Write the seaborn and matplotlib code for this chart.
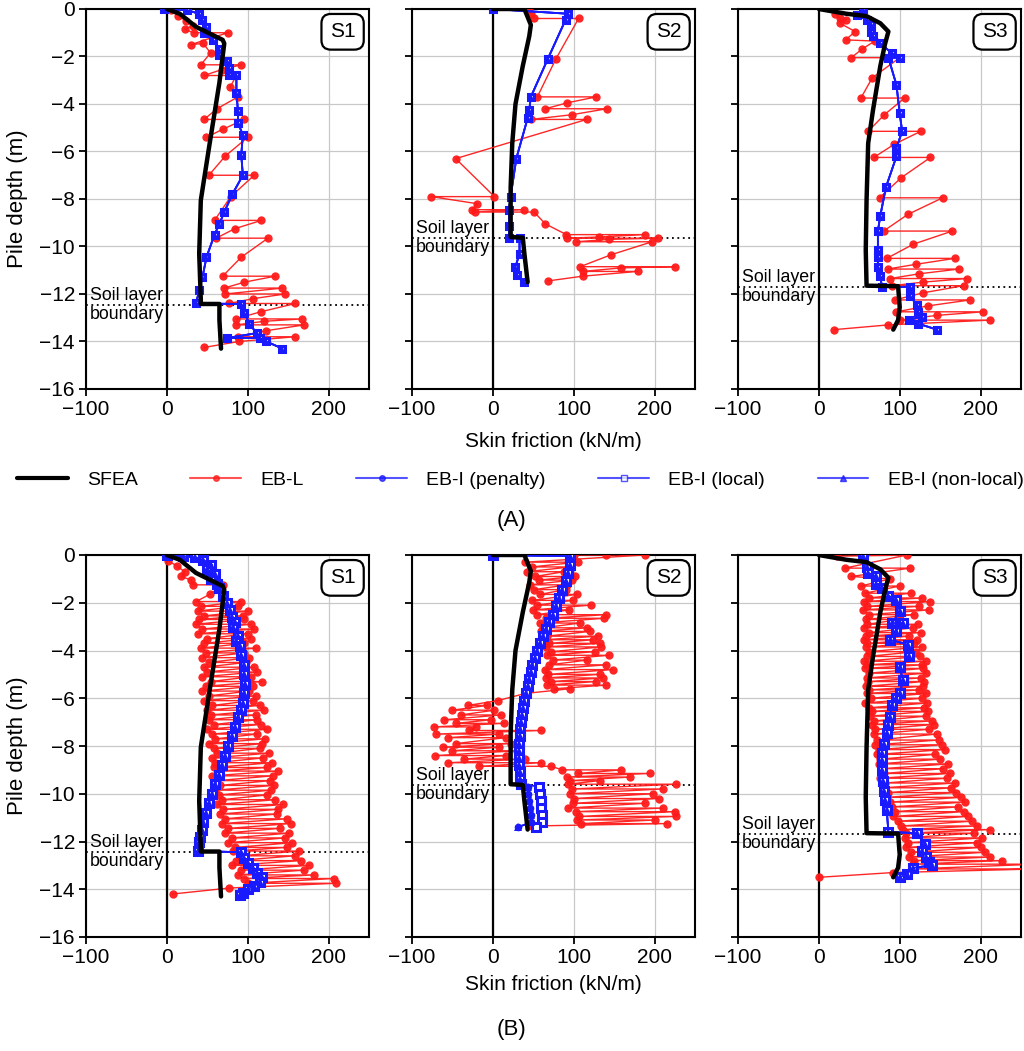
import matplotlib
matplotlib.use("Agg")
import matplotlib.pyplot as plt
from matplotlib.lines import Line2D
import seaborn as sns

# ---------------------------
# data
# ---------------------------

sites = ["S1", "S2", "S3"]
boundary = {"S1": -12.45, "S2": -9.65, "S3": -11.7}

# SFEA (same in both rows)
sfea_x = {
    "S1": [0, 16, 36, 69, 71, 65, 53, 42, 40, 42, 42, 65, 65, 67],
    "S2": [0, 39, 47, 45, 37, 28, 24, 22, 22, 37, 39, 43],
    "S3": [0, 34, 59, 76, 86, 82, 76, 67, 61, 59, 58, 59, 98, 100, 98, 92],
}
sfea_y = {
    "S1": [0, -0.2, -0.75, -1.3, -1.45, -3.1, -5.65, -8.05, -10.3, -12.25, -12.42, -12.42, -13.1, -14.3],
    "S2": [0, 0, -0.67, -1.15, -2.4, -4.0, -5.65, -7.5, -9.6, -9.63, -10.3, -11.5],
    "S3": [0, -0.2, -0.3, -0.6, -0.95, -1.45, -2.4, -4.25, -5.65, -8.05, -10.15, -11.65, -11.67, -12.55, -13.1, -13.5],
}

# (A) EB-L
ebl_a_x = {
    "S1": [5, 14, 24, 32, 22, 33, 76, 56, 30, 45, 54, 42, 92, 68, 46, 86, 78, 88, 62, 46, 96, 70, 49, 100,
           72, 52, 108, 79, 59, 117, 84, 61, 125, 92, 69, 134, 96, 71, 143, 72, 146, 106, 77, 159, 116, 85,
           167, 120, 86, 170, 122, 88, 159, 89, 46],
    "S2": [45, 47, 51, 106, 78, 55, 128, 92, 65, 141, 98, 47, 116, -46, 2, -76, -19, -26, 38, -22, 51, 65,
           91, 188, 131, 92, 204, 144, 103, 197, 146, 108, 225, 159, 111, 179, 111, 68],
    "S3": [20, 26, 34, 26, 45, 33, 69, 53, 40, 100, 66, 52, 106, 81, 61, 126, 93, 68, 138, 102, 75, 153, 110,
           80, 165, 117, 84, 168, 120, 85, 173, 124, 88, 183, 129, 91, 179, 129, 94, 187, 135, 96, 203, 146,
           100, 212, 86, 19],
}
ebl_a_y = {
    "S1": [-0.05, -0.3, -0.5, -0.7, -0.85, -1.0, -1.0, -1.2, -1.5, -1.45, -1.85, -2.35, -2.35, -2.55, -2.8,
           -2.8, -3.3, -3.7, -4.2, -4.65, -4.65, -5.05, -5.4, -5.4, -6.2, -7.0, -7.0, -7.9, -8.9, -8.9, -9.25,
           -9.65, -9.65, -10.45, -11.25, -11.25, -11.5, -11.75, -11.75, -12.0, -12.0, -12.2, -12.4, -12.4,
           -12.75, -13.05, -13.05, -13.15, -13.3, -13.3, -13.55, -13.8, -13.8, -14.0, -14.25],
    "S2": [0, -0.2, -0.4, -0.4, -2.1, -3.7, -3.7, -3.95, -4.2, -4.2, -4.45, -4.65, -4.65, -6.3, -7.9, -7.9,
           -8.2, -8.45, -8.45, -8.55, -8.55, -9.05, -9.5, -9.5, -9.6, -9.65, -9.65, -9.7, -9.8, -9.8, -10.35,
           -10.85, -10.85, -10.9, -11.05, -11.05, -11.25, -11.45],
    "S3": [-0.2, -0.4, -0.45, -0.6, -0.95, -1.3, -1.35, -1.7, -2.05, -2.05, -2.9, -3.75, -3.75, -4.45, -5.15,
           -5.15, -5.7, -6.25, -6.25, -7.1, -7.95, -7.95, -8.65, -9.35, -9.35, -9.9, -10.5, -10.5, -10.75,
           -10.95, -10.95, -11.15, -11.35, -11.35, -11.5, -11.65, -11.65, -11.95, -12.25, -12.25, -12.5,
           -12.75, -12.75, -12.9, -13.1, -13.1, -13.3, -13.5],
}

# (A) EB-I (penalty / local / non-local overlap)
ebi_a_x = {
    "S1": [-3, 25, 40, 44, 48, 46, 57, 65, 65, 75, 77, 77, 86, 86, 88, 88, 94, 92, 94, 81, 71, 65, 59, 49, 44,
           40, 36, 92, 96, 102, 111, 75, 115, 123, 143],
    "S2": [0, 93, 90, 68, 47, 45, 43, 29, 22, 20, 20, 20, 33, 33, 28, 30, 39],
    "S3": [55, 47, 59, 65, 65, 67, 76, 90, 100, 86, 96, 100, 103, 96, 96, 83, 76, 73, 73, 73, 73, 76, 78, 113,
           113, 121, 123, 127, 111, 123, 146],
}
ebi_a_y = {
    "S1": [0, -0.05, -0.2, -0.45, -0.75, -1.0, -1.3, -1.7, -1.95, -2.2, -2.5, -2.8, -2.8, -3.55, -4.3, -4.8,
           -5.3, -6.15, -7.0, -7.8, -8.55, -9.05, -9.5, -10.45, -11.3, -11.85, -12.4, -12.42, -12.8, -13.25,
           -13.65, -13.85, -13.85, -14.0, -14.3],
    "S2": [0, -0.2, -0.45, -2.1, -3.7, -4.25, -4.6, -6.3, -7.9, -8.45, -9.15, -9.65, -9.65, -10.3, -10.85,
           -11.2, -11.5],
    "S3": [0, -0.25, -0.45, -0.65, -0.95, -1.15, -1.45, -1.85, -2.05, -2.05, -3.2, -4.4, -5.15, -5.85, -6.2,
           -7.5, -8.7, -9.35, -10.15, -10.45, -10.85, -11.25, -11.7, -11.7, -12.1, -12.45, -12.75, -12.95,
           -13.1, -13.25, -13.5],
}

# (B) EB-L
ebl_b_x = {
    "S1": [2, 12, 22, 18, 30, 32, 69, 53, 36, 92,
           42, 88, 38, 100, 46, 94, 40, 96, 36, 104, 44, 108, 38, 100, 50, 104, 46, 96, 42, 110, 48, 96,
           44, 102, 52, 98, 46, 108, 50, 112, 44, 104, 54, 118, 48, 106, 44, 102, 52, 110, 46, 106,
           56, 115, 50, 120, 54, 110, 52, 112, 58, 116, 50, 124, 56, 112, 60, 121, 52, 118, 58, 115,
           62, 126, 56, 119, 60, 130, 58, 124, 64, 137, 56, 131, 62, 128, 66, 133, 60, 129, 64, 124,
           68, 134, 62, 144, 70, 138, 66, 136, 72, 148, 68, 153, 76, 140, 72, 151, 80, 146, 76, 155,
           84, 148, 82, 164, 90, 158, 86, 166, 80, 176, 92, 170, 88, 182, 96, 207, 100, 209, 77, 7],
    "S2": [100, 140, 188,
           40, 105, 48, 96, 42, 88, 52, 102, 57, 98, 46, 92, 51, 90, 58, 104, 49, 99, 54, 121, 50, 94, 55, 140,
           66, 138, 58, 108, 62, 116, 60, 120, 67, 130, 64, 124, 70, 132, 66, 134, 72, 126, 67, 144, 74, 117,
           70, 140, 64, 148, 68, 132, 66, 136, 72, 128, 67, 140, 76, 96,
           40, 6,
           -31, -7, -50, 2, -40, 10, -60, -2, -45, 14, -73, -21, -29, 60, -70, 8, -55, 16, -46, 22, -62, 8,
           -50, 30, -71, 16, -36, 40, -55, 60, -17, 72,
           86, 159, 105, 194, 92, 170, 96, 132, 93, 227, 98, 210, 95, 198, 100, 205, 99, 188, 93, 210,
           103, 225, 107, 227, 104, 200, 109, 215, 49],
    "S3": [22, 109, 32, 113, 40, 88, 52, 100, 57, 114,
           62, 128, 56, 138, 60, 124, 54, 136, 62, 118, 58, 100, 60, 122, 56, 117, 62, 126, 58, 112,
           56, 121, 60, 118, 58, 127, 62, 120, 60, 125, 56, 132, 60, 128, 57, 129, 62, 133, 59, 126,
           61, 130, 58, 129, 62, 124, 59, 133, 64, 128, 57, 134, 62, 130, 66, 135, 63, 133, 68, 140,
           66, 142, 70, 136, 68, 146, 72, 148, 70, 152, 74, 156, 72, 144, 76, 150, 74, 160, 78, 154,
           80, 162, 76, 158, 82, 168, 80, 164, 86, 170, 84, 176, 88, 181, 90, 172, 94, 179, 92, 184,
           98, 189, 102, 196, 104, 212, 108, 192, 106, 202, 110, 196, 108, 200, 114, 206, 112, 212, 118, 226,
           116, 270, 115, 270, 92, 0],
}
ebl_b_y = {
    "S1": [-0.25, -0.45, -0.7, -0.9, -1.05, -1.25, -1.25, -1.65, -1.95, -1.95,
           -2.15, -2.15, -2.35, -2.35, -2.55, -2.55, -2.7, -2.7, -2.9, -2.9, -3.1, -3.1, -3.3, -3.3,
           -3.5, -3.5, -3.7, -3.7, -3.9, -3.9, -4.1, -4.1,
           -4.3, -4.3, -4.5, -4.5, -4.7, -4.7, -4.9, -4.9, -5.1, -5.1, -5.3, -5.3, -5.5, -5.5, -5.7, -5.7,
           -5.9, -5.9, -6.1, -6.1,
           -6.3, -6.3, -6.5, -6.5, -6.7, -6.7, -6.9, -6.9, -7.1, -7.1, -7.3, -7.3, -7.5, -7.5, -7.7, -7.7,
           -7.9, -7.9, -8.1, -8.1,
           -8.3, -8.3, -8.5, -8.5, -8.7, -8.7, -8.9, -8.9, -9.05, -9.05, -9.25, -9.25, -9.45, -9.45,
           -9.65, -9.65, -9.85, -9.85, -10.05, -10.05,
           -10.25, -10.25, -10.45, -10.45, -10.65, -10.65, -10.85, -10.85, -11.05, -11.05, -11.25, -11.25,
           -11.45, -11.45, -11.65, -11.65, -11.85, -11.85, -12.05, -12.05,
           -12.25, -12.25, -12.4, -12.4, -12.6, -12.6, -12.8, -12.8, -13.0, -13.0, -13.2, -13.2, -13.4, -13.4,
           -13.55, -13.55, -13.75, -13.75, -13.95, -14.2],
    "S2": [0, 0, 0,
           -0.3, -0.3, -0.5, -0.5, -0.7, -0.7, -0.9, -0.9, -1.05, -1.05, -1.25, -1.25, -1.45, -1.45,
           -1.65, -1.65, -1.9, -1.9, -2.1, -2.1, -2.3, -2.3, -2.5, -2.5,
           -2.65, -2.65, -2.85, -2.85, -3.05, -3.05, -3.2, -3.2, -3.4, -3.4, -3.55, -3.55, -3.7, -3.7,
           -3.85, -3.85, -4.05, -4.05, -4.2, -4.2, -4.4, -4.4,
           -4.6, -4.6, -4.8, -4.8, -5.0, -5.0, -5.15, -5.15, -5.3, -5.3, -5.45, -5.45, -5.6, -5.6,
           -5.8, -6.1,
           -6.3, -6.3, -6.5, -6.5, -6.7, -6.7, -6.9, -6.9, -7.05, -7.05, -7.2, -7.2, -7.35, -7.35,
           -7.5, -7.5, -7.65, -7.65, -7.9, -7.9, -8.05, -8.05,
           -8.2, -8.2, -8.4, -8.4, -8.55, -8.55, -8.7, -8.7, -8.85, -8.85,
           -9.0, -9.0, -9.15, -9.15, -9.3, -9.3, -9.45, -9.45, -9.6, -9.6, -9.8, -9.8, -10.0, -10.0,
           -10.2, -10.2, -10.4, -10.4, -10.6, -10.6,
           -10.75, -10.75, -10.95, -10.95, -11.1, -11.1, -11.25, -11.25, -11.35],
    "S3": [-0.05, 0, -0.55, -0.55, -0.9, -1.0, -1.3, -1.3, -1.6, -1.6,
           -1.8, -1.8, -1.95, -1.95, -2.15, -2.15, -2.3, -2.3, -2.5, -2.5, -2.7, -2.7, -2.9, -2.9,
           -3.05, -3.05, -3.25, -3.25, -3.4, -3.4,
           -3.55, -3.55, -3.7, -3.7, -3.85, -3.85, -4.05, -4.05, -4.25, -4.25, -4.45, -4.45, -4.6, -4.6,
           -4.75, -4.75, -4.95, -4.95, -5.15, -5.15,
           -5.3, -5.3, -5.5, -5.5, -5.65, -5.65, -5.8, -5.8, -6.0, -6.0, -6.2, -6.2, -6.4, -6.4,
           -6.55, -6.55, -6.75, -6.75, -6.95, -6.95,
           -7.1, -7.1, -7.3, -7.3, -7.5, -7.5, -7.75, -7.75, -7.95, -7.95, -8.15, -8.15, -8.35, -8.35,
           -8.55, -8.55, -8.75, -8.75, -8.95, -8.95,
           -9.15, -9.15, -9.35, -9.35, -9.55, -9.55, -9.75, -9.75, -9.95, -9.95, -10.15, -10.15,
           -10.35, -10.35, -10.55, -10.55, -10.75, -10.75, -10.95, -10.95,
           -11.15, -11.15, -11.35, -11.35, -11.5, -11.5, -11.65, -11.65, -11.85, -11.85, -12.05, -12.05,
           -12.25, -12.25, -12.45, -12.45, -12.65, -12.65, -12.8, -12.8,
           -12.95, -12.95, -13.15, -13.15, -13.3, -13.5],
}

# (B) EB-I
ebi_b_x = {
    "S1": [0, 20, 35, 45, 55, 50, 60, 55, 62, 65, 70, 75, 78, 80, 84, 82, 88, 86, 90, 92, 95, 96, 97, 96, 94,
           92, 88, 84, 80, 76, 72, 68, 64, 60, 56, 52, 48, 45, 43, 41, 40, 38, 92, 95, 100, 106, 112, 118, 115,
           108, 100, 94, 90],
    "S2": [0, 95, 95, 93, 90, 86, 82, 78, 74, 70, 66, 62, 58, 55, 52, 49, 47, 45, 43, 41, 39, 37, 36, 35, 34,
           33, 32, 32, 32, 32, 33, 34, 35, 43, 44, 45, 46, 47, 47, 31],
    "S3": [55, 59, 61, 71, 71, 78, 86, 96, 100, 91, 104, 95, 88, 110, 112, 100, 104, 100, 96, 90, 88, 86, 84,
           80, 78, 78, 78, 79, 80, 82, 84, 86, 121, 131, 128, 133, 136, 140, 117, 109, 100],
}
ebi_b_y = {
    "S1": [0, -0.05, -0.1, -0.2, -0.4, -0.6, -0.8, -1.0, -1.2, -1.4, -1.7, -2.0, -2.3, -2.6, -2.8, -3.0, -3.4,
           -3.6, -3.8, -4.2, -4.6, -5.0, -5.4, -5.8, -6.2, -6.5, -6.8, -7.2, -7.6, -8.0, -8.4, -8.8, -9.2,
           -9.6, -10.0, -10.4, -10.8, -11.2, -11.5, -11.8, -12.0, -12.4, -12.45, -12.7, -12.9, -13.1, -13.3,
           -13.5, -13.7, -13.85, -14.0, -14.15, -14.25],
    "S2": [0, -0.05, -0.4, -0.75, -1.1, -1.45, -1.8, -2.15, -2.5, -2.8, -3.1, -3.4, -3.7, -4.0, -4.3, -4.6,
           -4.9, -5.2, -5.5, -5.8, -6.1, -6.4, -6.7, -7.0, -7.3, -7.6, -7.9, -8.2, -8.5, -8.8, -9.1, -9.4,
           -9.6, -9.7, -10.0, -10.3, -10.6, -10.9, -11.2, -11.4],
    "S3": [-0.05, -0.5, -0.75, -0.9, -1.2, -1.4, -1.7, -1.9, -2.35, -2.85, -2.85, -3.2, -3.55, -3.75, -4.25,
           -4.7, -5.25, -5.8, -6.0, -6.3, -6.8, -7.1, -7.45, -7.9, -8.3, -8.6, -9.0, -9.45, -9.9, -10.25,
           -10.7, -11.6, -11.65, -12.1, -12.4, -12.65, -12.85, -13.0, -13.1, -13.35, -13.5],
}

# (B) EB-I (local) departs from the others below the boundary in S2
ebi_loc_b_s2_x = [0, 95, 95, 93, 90, 86, 82, 78, 74, 70, 66, 62, 58, 55, 52, 49, 47, 45, 43, 41, 39, 37, 36,
                  35, 34, 33, 32, 32, 32, 32, 33, 34, 35, 57, 58, 59, 60, 61, 61, 53]

# ---------------------------
# figure
# ---------------------------

sns.set_theme(style="whitegrid")
plt.rcParams["font.family"] = ["Liberation Sans", "DejaVu Sans"]
plt.rcParams["text.color"] = "black"
plt.rcParams["axes.labelcolor"] = "black"

fig = plt.figure(figsize=(10.24, 10.51), dpi=100)

lefts = [86 / 1024, 412 / 1024, 738 / 1024]
width = 283 / 1024
rows = {"A": (1 - 389 / 1051, 380 / 1051), "B": (1 - 937 / 1051, 382 / 1051)}

red = "#ff1a1a"
blue = "#1a1aff"


def draw_panel(ax, site, lx, ly, bx, by, bx_loc, show_ylabel, bms):
    ax.axvline(0, color="black", lw=1.6, zorder=2)
    ax.axhline(boundary[site], color="black", lw=1.3, ls=(0, (1, 2)), zorder=2)
    sns.lineplot(x=lx, y=ly, sort=False, estimator=None, color=red, lw=1.0, marker="o",
                 markersize=6, markeredgewidth=0, alpha=0.95, ax=ax, zorder=3)
    sns.lineplot(x=bx, y=by, sort=False, estimator=None, color=blue, lw=1.3, marker="o",
                 markersize=bms, markeredgewidth=0, ax=ax, zorder=4)
    sns.lineplot(x=bx_loc, y=by, sort=False, estimator=None, color=blue, lw=1.3, marker="s",
                 markersize=bms, markerfacecolor="white", markeredgecolor=blue, markeredgewidth=2.2,
                 ax=ax, zorder=4)
    sns.lineplot(x=bx, y=by, sort=False, estimator=None, color=blue, lw=1.3, marker="^",
                 markersize=bms + 0.5, markeredgewidth=0, ax=ax, zorder=4)
    sns.lineplot(x=sfea_x[site], y=sfea_y[site], sort=False, estimator=None, color="black",
                 lw=3.2, ax=ax, zorder=5)

    ax.set_xlim(-100, 250)
    ax.set_ylim(-16, 0)
    ax.set_xticks([-100, 0, 100, 200])
    ax.set_yticks(range(-16, 1, 2))
    ax.grid(True, color="#c8c8c8", lw=0.9)
    for s in ax.spines.values():
        s.set_color("black")
        s.set_linewidth(1.5)
    ax.tick_params(direction="out", length=5, width=1.3, colors="black", labelsize=15,
                   left=True, bottom=True, pad=3)
    if show_ylabel:
        ax.set_ylabel("Pile depth (m)", fontsize=16, color="black", labelpad=8)
    else:
        ax.set_ylabel("")
        ax.set_yticklabels([])
    ax.set_xlabel("")
    ax.text(-95, boundary[site], "Soil layer\nboundary", fontsize=12.8, va="center", ha="left",
            linespacing=1.15, color="black", zorder=6)
    ax.text(0.952, 0.965, site, transform=ax.transAxes, fontsize=15, ha="right", va="top",
            bbox=dict(boxstyle="round,pad=0.4,rounding_size=0.45", fc="white", ec="black", lw=1.6),
            zorder=7)


for row, (bottom, height) in rows.items():
    for i, site in enumerate(sites):
        ax = fig.add_axes([lefts[i], bottom, width, height])
        if row == "A":
            draw_panel(ax, site, ebl_a_x[site], ebl_a_y[site], ebi_a_x[site], ebi_a_y[site],
                       ebi_a_x[site], i == 0, 4.5)
        else:
            loc_x = ebi_loc_b_s2_x if site == "S2" else ebi_b_x[site]
            draw_panel(ax, site, ebl_b_x[site], ebl_b_y[site], ebi_b_x[site], ebi_b_y[site],
                       loc_x, i == 0, 5.5)

fig.text(553 / 1024, 1 - 441 / 1051, "Skin friction (kN/m)", ha="center", va="center", fontsize=15)
fig.text(553 / 1024, 1 - 985 / 1051, "Skin friction (kN/m)", ha="center", va="center", fontsize=15)
fig.text(0.5, 1 - 520 / 1051, "(A)", ha="center", va="center", fontsize=16)
fig.text(0.5, 1 - 1030 / 1051, "(B)", ha="center", va="center", fontsize=16)

handles = [
    Line2D([], [], color="black", lw=3),
    Line2D([], [], color=red, lw=1.5, marker="o", markersize=4, alpha=0.75),
    Line2D([], [], color=blue, lw=1.5, marker="o", markersize=4, alpha=0.75),
    Line2D([], [], color=blue, lw=1.5, marker="s", markersize=4, markerfacecolor="white", alpha=0.75),
    Line2D([], [], color=blue, lw=1.5, marker="^", markersize=4, alpha=0.75),
]
labels = ["SFEA", "EB-L", "EB-I (penalty)", "EB-I (local)", "EB-I (non-local)"]
fig.legend(handles, labels, loc="center", bbox_to_anchor=(0.508, 1 - 480 / 1051), ncol=5,
           frameon=False, fontsize=14, handlelength=2.6, columnspacing=2.7, handletextpad=1.0)

fig.savefig("out.png", dpi=100)
